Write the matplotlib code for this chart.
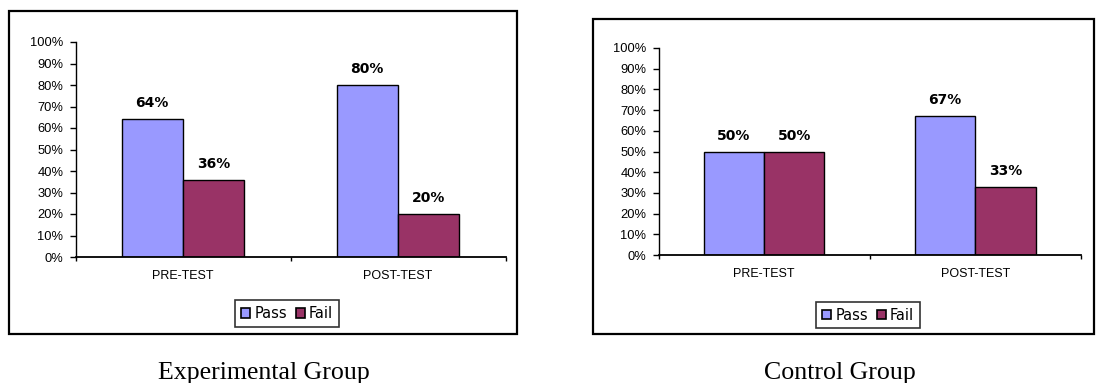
import matplotlib
matplotlib.use("Agg")
import matplotlib.pyplot as plt
from matplotlib.patches import Rectangle, Patch
from matplotlib.ticker import FixedLocator, FuncFormatter
import numpy as np

categories = ["PRE-TEST", "POST-TEST"]
series_names = ["Pass", "Fail"]
exp_pass = [64, 80]
exp_fail = [36, 20]
ctrl_pass = [50, 67]
ctrl_fail = [50, 33]
captions = ["Experimental Group", "Control Group"]
yticks = list(range(0, 101, 10))

PASS_COLOR = "#9999FF"
FAIL_COLOR = "#993366"

W, H = 1096, 383
fig = plt.figure(figsize=(W / 100, H / 100), dpi=100)
plt.rcParams["font.family"] = ["Liberation Sans", "DejaVu Sans"]


def px_axes(x0, x1, ytop, ybot):
    return fig.add_axes([x0 / W, (H - ybot) / H, (x1 - x0) / W, (ybot - ytop) / H])


def border(x0, y0, x1, y1):
    fig.patches.append(Rectangle((x0 / W, (H - y1) / H), (x1 - x0) / W, (y1 - y0) / H,
                                 transform=fig.transFigure, fill=False,
                                 edgecolor="black", linewidth=1.6, zorder=0))


def panel(ax, pvals, fvals, legend_center, caption, cap_pos):
    x = np.arange(len(categories))
    bw = 1 / 3.5
    b1 = ax.bar(x - bw / 2, pvals, bw, color=PASS_COLOR, edgecolor="black", linewidth=1.0)
    b2 = ax.bar(x + bw / 2, fvals, bw, color=FAIL_COLOR, edgecolor="black", linewidth=1.0)
    for bars, vals in ((b1, pvals), (b2, fvals)):
        for r, v in zip(bars, vals):
            ax.annotate(f"{v}%", (r.get_x() + r.get_width() / 2, v), xytext=(0, 8.6),
                        textcoords="offset points", ha="center", va="baseline",
                        fontsize=10, fontweight="bold", family="DejaVu Sans")
    ax.set_xlim(-0.5, len(categories) - 0.5)
    ax.set_ylim(0, 100)
    ax.set_yticks(yticks)
    ax.yaxis.set_major_formatter(FuncFormatter(lambda v, p: f"{int(v)}%"))
    ax.set_xticks(x)
    ax.set_xticklabels(categories)
    ax.xaxis.set_minor_locator(FixedLocator(np.arange(-0.5, len(categories), 1.0)))
    ax.tick_params(axis="x", which="major", length=0, labelsize=9, pad=9.5)
    ax.tick_params(axis="x", which="minor", length=3, width=1.0, direction="out")
    ax.tick_params(axis="y", length=4.3, width=1.0, direction="out", labelsize=9.3, pad=4.5)
    for s in ("top", "right"):
        ax.spines[s].set_visible(False)
    ax.spines["left"].set_linewidth(1.0)
    ax.spines["bottom"].set_linewidth(1.3)
    ax.patch.set_alpha(0)
    handles = [Patch(facecolor=PASS_COLOR, edgecolor="black", linewidth=1.2, label=series_names[0]),
               Patch(facecolor=FAIL_COLOR, edgecolor="black", linewidth=1.2, label=series_names[1])]
    leg = fig.legend(handles=handles, loc="center", ncol=2,
                     bbox_to_anchor=(legend_center[0] / W, (H - legend_center[1]) / H),
                     frameon=True, fancybox=False, handlelength=0.62,
                     handleheight=0.62, handletextpad=0.3, columnspacing=0.6,
                     borderpad=0.4, borderaxespad=0,
                     prop={"family": "DejaVu Sans", "size": 10.5})
    leg.get_frame().set_edgecolor("black")
    leg.get_frame().set_linewidth(1.2)
    fig.text(cap_pos[0] / W, (H - cap_pos[1]) / H, caption, ha="center", va="baseline",
             fontsize=18.6, family=["Liberation Serif", "DejaVu Serif"])


border(9, 10.7, 517, 334)
border(592.5, 19, 1094, 334)

ax1 = px_axes(75.5, 505.5, 42, 257)
panel(ax1, exp_pass, exp_fail, (287, 313.5), captions[0], (264, 379))

ax2 = px_axes(658.5, 1081, 48, 255)
panel(ax2, ctrl_pass, ctrl_fail, (868, 315), captions[1], (840, 379))

fig.savefig("out.png", dpi=100)
